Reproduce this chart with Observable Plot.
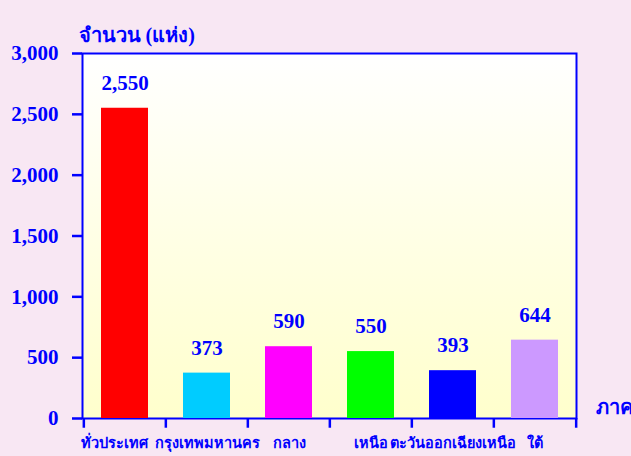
<!DOCTYPE html>
<html>
<head>
<meta charset="utf-8">
<script src="https://cdn.jsdelivr.net/npm/d3@7"></script>
<script src="https://cdn.jsdelivr.net/npm/@observablehq/plot@0.6"></script>
<style>
  html, body { margin: 0; padding: 0; background: #f8e7f3; }
  #chart svg { display: block; }
</style>
</head>
<body>
<div id="chart"></div>
<script>
const regions = ["ทั่วประเทศ", "กรุงเทพมหานคร", "กลาง", "เหนือ", "ตะวันออกเฉียงเหนือ", "ใต้"];
const counts = [2550, 373, 590, 550, 393, 644];
const barColors = ["#ff0000", "#00ccff", "#ff00ff", "#00ff00", "#0000ff", "#cc99ff"];
const yTicks = [0, 500, 1000, 1500, 2000, 2500, 3000];
const yTitle = "จำนวน (แห่ง)";
const xTitle = "ภาค";

const data = regions.map((r, i) => ({region: r, count: counts[i], color: barColors[i]}));

const blue = "#0000ff";
const font = "'Liberation Serif', 'DejaVu Serif', serif";
const W = 631, H = 456, ML = 82, MR = 55, MT = 53, MB = 38;
const step = (W - ML - MR) / regions.length;
const fmt = d3.format(",");
const catStyle = {x: d => d, frameAnchor: "bottom", dy: 29, fill: blue, fontSize: 14.5, fontWeight: "bold"};

const chart = Plot.plot({
  width: W,
  height: H,
  marginLeft: ML,
  marginRight: MR,
  marginTop: MT,
  marginBottom: MB,
  style: {background: "#f8e7f3", fontFamily: font, fontWeight: "bold", color: blue, overflow: "visible"},
  x: {domain: regions, paddingInner: 0.43, paddingOuter: 0.215, axis: null, label: null},
  y: {domain: [0, 3000], axis: null, label: null},
  marks: [
    Plot.frame({fill: "url(#plotbg)", stroke: blue, strokeWidth: 2}),
    Plot.barY(data, {x: "region", y: "count", fill: "color"}),
    Plot.text(data, {x: "region", y: "count", text: d => fmt(d.count), dy: -25, fill: blue, fontSize: 21, fontWeight: "bold"}),
    Plot.axisY({ticks: yTicks, tickFormat: fmt, label: null, tickSize: 10, tickPadding: 14, stroke: blue, strokeWidth: 2.5, fill: blue, fontSize: 21, fontWeight: "bold"}),
    Plot.ruleX(regions, {x: d => d, dx: -step / 2, y1: 0, y2: -80, stroke: blue, strokeWidth: 2.5}),
    Plot.ruleX(regions.slice(-1), {x: d => d, dx: step / 2, y1: 0, y2: -80, stroke: blue, strokeWidth: 2.5}),
    Plot.text(regions.slice(0, 1), {...catStyle, text: d => d, textAnchor: "start", dx: -step / 2 - 3}),
    Plot.text(regions.slice(1), {...catStyle, text: d => d, textAnchor: "middle"}),
    Plot.text([yTitle], {text: d => d, frameAnchor: "top-left", textAnchor: "start", dx: -4, dy: -26, fill: blue, fontSize: 20, fontWeight: "bold"}),
    Plot.text([xTitle], {text: d => d, frameAnchor: "bottom-right", textAnchor: "start", dx: 19, dy: -5, fill: blue, fontSize: 20, fontWeight: "bold"})
  ]
});

const ns = "http://www.w3.org/2000/svg";
const defs = document.createElementNS(ns, "defs");
defs.innerHTML = '<linearGradient id="plotbg" x1="0" y1="0" x2="0" y2="1"><stop offset="0" stop-color="#ffffff"/><stop offset="1" stop-color="#ffffcc"/></linearGradient>';
chart.insertBefore(defs, chart.firstChild);
document.getElementById("chart").appendChild(chart);
</script>
</body>
</html>
